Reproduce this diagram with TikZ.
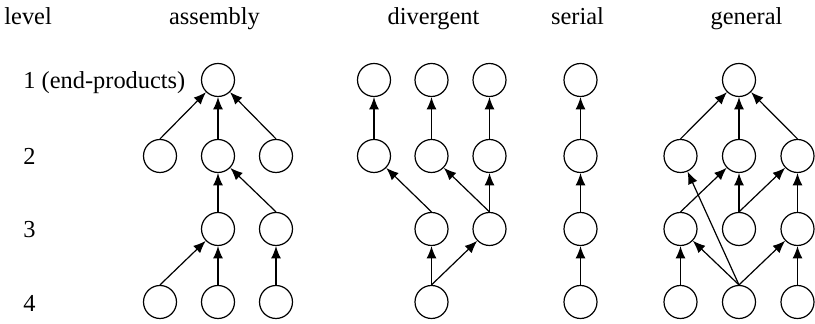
\documentclass[tikz,border=0pt]{standalone}
\usepackage{fontspec}
\setmainfont{Liberation Serif}
\usetikzlibrary{arrows.meta}
\begin{document}
\begin{tikzpicture}[x=0.5pt,y=-0.5pt,
  item/.style={circle,draw,line width=0.6pt,inner sep=0pt,minimum size=16.5pt},
  link/.style={line width=0.6pt,-{Latex[length=6.2pt,width=5pt]}},
  lbl/.style={font=\fontsize{12.2}{14}\selectfont,inner sep=0pt}]
\useasboundingbox (0,0) rectangle (815,324);

% column headings
\node[lbl,anchor=base west] (hlevel) at (4,25) {level};
\node[lbl,anchor=base] (hasm) at (214.5,25) {assembly};
\node[lbl,anchor=base] (hdiv) at (433.5,25) {divergent};
\node[lbl,anchor=base] (hser) at (577.5,25) {serial};
\node[lbl,anchor=base] (hgen) at (746.5,25) {general};

% level numbers
\node[lbl,anchor=base west] (l1) at (23,89) {1 (end-products)};
\node[lbl,anchor=base west] (l2) at (23,165) {2};
\node[lbl,anchor=base west] (l3) at (23,238) {3};
\node[lbl,anchor=base west] (l4) at (23,312) {4};

% assembly structure
\node[item] (a11) at (218,80) {};
\node[item] (a21) at (160,156) {};
\node[item] (a22) at (218,156) {};
\node[item] (a23) at (276,156) {};
\node[item] (a32) at (218,229) {};
\node[item] (a33) at (276,229) {};
\node[item] (a41) at (160,302) {};
\node[item] (a42) at (218,302) {};
\node[item] (a43) at (276,302) {};
\foreach \c/\p in {a21/a11,a22/a11,a23/a11,a32/a22,a33/a22,a41/a32,a42/a32,a43/a33}
  \draw[link] (\c.north) -- (\p);

% divergent structure
\node[item] (d11) at (374,80) {};
\node[item] (d12) at (431.5,80) {};
\node[item] (d13) at (489.5,80) {};
\node[item] (d21) at (374,156) {};
\node[item] (d22) at (431.5,156) {};
\node[item] (d23) at (489.5,156) {};
\node[item] (d32) at (431.5,229) {};
\node[item] (d33) at (489.5,229) {};
\node[item] (d42) at (431.5,302) {};
\foreach \c/\p in {d21/d11,d22/d12,d23/d13,d32/d21,d33/d22,d33/d23,d42/d32,d42/d33}
  \draw[link] (\c.north) -- (\p);

% serial structure
\node[item] (s1) at (580.5,80) {};
\node[item] (s2) at (580.5,156) {};
\node[item] (s3) at (580.5,229) {};
\node[item] (s4) at (580.5,302) {};
\foreach \c/\p in {s2/s1,s3/s2,s4/s3}
  \draw[link] (\c.north) -- (\p);

% general structure
\node[item] (g11) at (739,80) {};
\node[item] (g21) at (680.5,156) {};
\node[item] (g22) at (739,156) {};
\node[item] (g23) at (797.5,156) {};
\node[item] (g31) at (680.5,229) {};
\node[item] (g32) at (739,229) {};
\node[item] (g33) at (797.5,229) {};
\node[item] (g41) at (680.5,302) {};
\node[item] (g42) at (739,302) {};
\node[item] (g43) at (797.5,302) {};
\foreach \c/\p in {g21/g11,g22/g11,g23/g11,g31/g22,g32/g22,g32/g23,g33/g23,
                   g41/g31,g42/g31,g42/g21,g42/g33,g43/g33}
  \draw[link] (\c.north) -- (\p);
\end{tikzpicture}
\end{document}
